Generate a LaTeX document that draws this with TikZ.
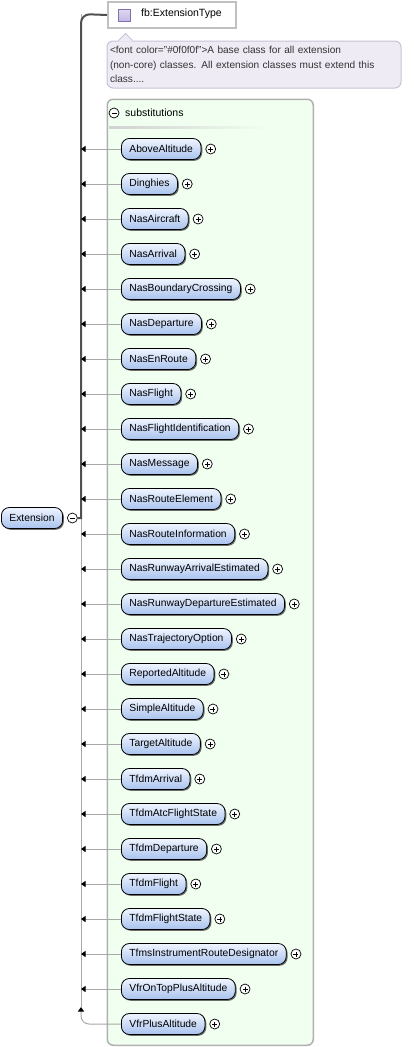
\documentclass[tikz,border=0pt]{standalone}
\usepackage{fontspec}
\setmainfont{Liberation Sans}
\usepackage{xcolor}
\definecolor{elemtop}{RGB}{240,245,255}
\definecolor{elembot}{RGB}{168,194,238}
\definecolor{subsgreen}{RGB}{240,255,240}
\definecolor{subsborder}{RGB}{176,176,176}
\definecolor{docfill}{RGB}{238,235,245}
\definecolor{docborder}{RGB}{200,195,215}
\definecolor{typeborder}{RGB}{192,192,192}
\definecolor{iconfill}{RGB}{196,184,228}
\definecolor{iconborder}{RGB}{128,112,176}
\definecolor{linkdark}{RGB}{80,80,80}
\definecolor{linkgray}{RGB}{168,168,168}
\usetikzlibrary{positioning,arrows.meta,shadows,calc}
\tikzset{
  elembox/.style={rectangle,rounded corners=8pt,draw=black,line width=0.8pt,
    top color=elemtop,bottom color=elembot,
    drop shadow={shadow xshift=1.3pt,shadow yshift=-1.3pt,fill=black!80,opacity=0.7},
    font=\fontsize{10.3}{12}\selectfont,minimum height=21pt,inner xsep=8pt,inner ysep=0pt},
  pbtn/.style={circle,draw=black,line width=0.7pt,fill=white,minimum size=10pt,inner sep=0pt,
    path picture={\draw[line width=0.7pt] ($(path picture bounding box.center)+(-2.5,0)$) -- ++(5,0)
      ($(path picture bounding box.center)+(0,-2.5)$) -- ++(0,5);}},
  mbtn/.style={circle,draw=black,line width=0.7pt,fill=white,minimum size=10pt,inner sep=0pt,
    path picture={\draw[line width=0.7pt] ($(path picture bounding box.center)+(-2.5,0)$) -- ++(5,0);}},
  typebox/.style={rectangle,draw=typeborder,line width=2pt,fill=white,inner sep=0pt},
  iconbox/.style={rectangle,draw=iconborder,line width=0.8pt,top color=iconfill!55,bottom color=iconfill,
    minimum size=12pt,inner sep=0pt},
  docbox/.style={rectangle,rounded corners=6pt,draw=docborder,line width=1pt,fill=docfill,
    text=black!80,align=left,font=\fontsize{10.1}{14.5}\selectfont,text width=288pt,
    inner xsep=3pt,inner ysep=3pt,minimum height=47pt},
  subsbox/.style={rectangle,rounded corners=6pt,draw=subsborder,line width=1.5pt,fill=subsgreen,inner sep=0pt},
  lbl/.style={font=\fontsize{10.5}{12}\selectfont,inner sep=2pt},
  typeln/.style={draw=linkdark,line width=2pt},
  subln/.style={draw=linkgray,line width=1pt},
  subarr/.style={subln,-{Triangle[length=4.5pt,width=6pt,color=black]}},
}
\begin{document}
\begin{tikzpicture}[x=1pt,y=-1pt]
  \useasboundingbox (0,0) rectangle (414,1047);
  % --- type and documentation ---
  \node[typebox,anchor=north west,minimum width=128pt,minimum height=26pt] (type) at (107,1) {};
  \node[iconbox] (icon) at (124,15) {};
  \node[lbl,anchor=west] (typelbl) at (139,14) {fb:ExtensionType};
  \node[docbox,anchor=north west] (doc) at (106.5,40.5) {<font color="\#0f0f0f">A base class for all extension\\
    (non-core) classes. All extension classes must extend this\\ class....};
  \fill[docfill] ($(doc.north west)+(12,1)$) -- ++(7,-8) -- ++(7,8) -- cycle;
  \draw[docborder,line width=1pt] ($(doc.north west)+(12,0)$) -- ++(7,-7) -- ++(7,7);
  % --- substitutions group ---
  \node[subsbox,anchor=north west,minimum width=206pt,minimum height=946pt] (subs) at (106.5,98.5) {};
  \node[mbtn] (sm) at (114,113) {};
  \node[lbl,anchor=west] (stitle) at (123,113) {substitutions};
  \fill[left color=black!18,right color=subsgreen] (109,126) rectangle (268,128);
  % --- element and spine ---
  \coordinate (bus) at (81,14);
  \coordinate (busend) at (81,1007);
  \node[elembox,anchor=west] (ext) at (1,518) {Extension};
  \node[mbtn,right=4pt of ext] (xm) {};
  \draw[subln] (bus) -- (busend);
  \draw[typeln] (xm.east) -- (xm.east -| bus) [rounded corners=9pt] -- (bus) -- (type.west);
  % --- substitution members ---
  \foreach \name [count=\i] in {AboveAltitude,Dinghies,NasAircraft,NasArrival,NasBoundaryCrossing,
    NasDeparture,NasEnRoute,NasFlight,NasFlightIdentification,NasMessage,NasRouteElement,
    NasRouteInformation,NasRunwayArrivalEstimated,NasRunwayDepartureEstimated,NasTrajectoryOption,
    ReportedAltitude,SimpleAltitude,TargetAltitude,TfdmArrival,TfdmAtcFlightState,TfdmDeparture,
    TfdmFlight,TfdmFlightState,TfmsInstrumentRouteDesignator,VfrOnTopPlusAltitude}{
    \node[elembox,anchor=west] (\name) at (121,114+35*\i) {\name};
    \node[pbtn,right=4pt of \name] (p\i) {};
    \draw[subarr] (\name.west) -- (\name.west -| bus);}
  \node[elembox,anchor=west] (VfrPlusAltitude) at (121,1024) {VfrPlusAltitude};
  \node[pbtn,right=4pt of VfrPlusAltitude] (p26) {};
  \draw[subarr,rounded corners=8pt] (VfrPlusAltitude.west) -| (busend);
\end{tikzpicture}
\end{document}
